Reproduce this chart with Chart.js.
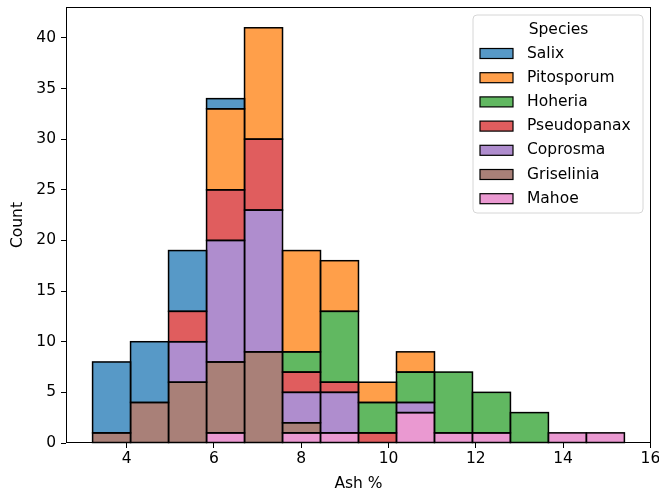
<!DOCTYPE html>
<html>
<head>
<meta charset="utf-8">
<script src="https://cdn.jsdelivr.net/npm/chart.js@4/dist/chart.umd.min.js"></script>
<style>
  html, body { margin: 0; padding: 0; background: #ffffff; }
  #wrap { width: 659px; height: 493px; }
</style>
</head>
<body>
<div id="wrap"><canvas id="c" width="659" height="493"></canvas></div>
<script>
// Histogram bin edges of Ash %
const binEdges = [3.221, 4.091, 4.961, 5.832, 6.702, 7.572, 8.442, 9.312, 10.183, 11.053, 11.923, 12.793, 13.663, 14.533, 15.404];

// Species in legend order
const species = ['Salix', 'Pitosporum', 'Hoheria', 'Pseudopanax', 'Coprosma', 'Griselinia', 'Mahoe'];

// Counts per bin for each species
const salix       = [7, 6, 6, 1, 0, 0, 0, 0, 0, 0, 0, 0, 0, 0];
const pitosporum  = [0, 0, 0, 8, 11, 10, 5, 2, 2, 0, 0, 0, 0, 0];
const hoheria     = [0, 0, 0, 0, 0, 2, 7, 3, 3, 6, 4, 3, 0, 0];
const pseudopanax = [0, 0, 3, 5, 7, 2, 1, 1, 0, 0, 0, 0, 0, 0];
const coprosma    = [0, 0, 4, 12, 14, 3, 4, 0, 1, 0, 0, 0, 0, 0];
const griselinia  = [1, 4, 6, 7, 9, 1, 0, 0, 0, 0, 0, 0, 0, 0];
const mahoe       = [0, 0, 0, 1, 0, 1, 1, 0, 3, 1, 1, 0, 1, 1];

const counts = [salix, pitosporum, hoheria, pseudopanax, coprosma, griselinia, mahoe];

// Tick labels
const xTicks = [4, 6, 8, 10, 12, 14, 16];
const yTicks = [0, 5, 10, 15, 20, 25, 30, 35, 40];

const colors = [
  'rgba(31,119,180,0.75)',
  'rgba(255,127,14,0.75)',
  'rgba(44,160,44,0.75)',
  'rgba(214,39,40,0.75)',
  'rgba(148,103,189,0.75)',
  'rgba(140,86,75,0.75)',
  'rgba(227,119,194,0.75)'
];

const FONT = "'DejaVu Sans', sans-serif";
const FS = 15.5;

// Axis limits with 5% margins around the data
const xSpan = binEdges[binEdges.length - 1] - binEdges[0];
const xMin = binEdges[0] - 0.05 * xSpan;
const xMax = binEdges[binEdges.length - 1] + 0.05 * xSpan;
const totals = binEdges.slice(0, -1).map((_, i) => counts.reduce((s, a) => s + a[i], 0));
const yMax = Math.max(...totals) * 1.05;

// Stacked bottom-up: last species in legend order sits at the bottom
const datasets = species.map((name, k) => ({
  label: name,
  data: counts[k].map((v, i) => ({ x: (binEdges[i] + binEdges[i + 1]) / 2, y: v === 0 ? null : v })),
  backgroundColor: colors[k],
  borderWidth: 0,
  barPercentage: 1,
  categoryPercentage: 1
})).reverse();

// Outline every bar, then frame the plot and draw the legend box
const outlinePlugin = {
  id: 'outline',
  afterDatasetsDraw(chart) {
    const ctx = chart.ctx;
    ctx.save();
    ctx.strokeStyle = '#000000';
    ctx.lineWidth = 1.5;
    chart.data.datasets.forEach((ds, di) => {
      const meta = chart.getDatasetMeta(di);
      meta.data.forEach((bar, i) => {
        if (ds.data[i].y == null) return;
        const p = bar.getProps(['x', 'y', 'base', 'width'], true);
        const l = p.x - p.width / 2;
        const top = Math.min(p.y, p.base);
        const h = Math.abs(p.base - p.y);
        ctx.strokeRect(l, top, p.width, h);
      });
    });
    ctx.restore();
  },
  afterDraw(chart) {
    const ctx = chart.ctx;
    const a = chart.chartArea;
    ctx.save();
    ctx.strokeStyle = '#000000';
    ctx.lineWidth = 1;
    ctx.strokeRect(Math.round(a.left) + 0.5, Math.round(a.top) + 0.5,
                   Math.round(a.right - a.left) - 1, Math.round(a.bottom - a.top) - 1);

    // Legend
    const bx = 473, by = 15, bw = 170, bh = 198, r = 4;
    ctx.beginPath();
    ctx.moveTo(bx + r, by);
    ctx.arcTo(bx + bw, by, bx + bw, by + bh, r);
    ctx.arcTo(bx + bw, by + bh, bx, by + bh, r);
    ctx.arcTo(bx, by + bh, bx, by, r);
    ctx.arcTo(bx, by, bx + bw, by, r);
    ctx.closePath();
    ctx.fillStyle = 'rgba(255,255,255,0.8)';
    ctx.fill();
    ctx.strokeStyle = '#d6d6d6';
    ctx.lineWidth = 1;
    ctx.stroke();

    ctx.font = FS + 'px ' + FONT;
    ctx.fillStyle = '#000000';
    ctx.textBaseline = 'middle';
    ctx.textAlign = 'center';
    ctx.fillText('Species', bx + bw / 2 + 0.5, 30);
    ctx.textAlign = 'left';
    species.forEach((name, k) => {
      const cy = 53.5 + k * 24.2;
      ctx.fillStyle = '#ffffff';
      ctx.fillRect(480, cy - 5, 33, 10);
      ctx.fillStyle = colors[k];
      ctx.fillRect(480, cy - 5, 33, 10);
      ctx.strokeStyle = '#000000';
      ctx.lineWidth = 1.2;
      ctx.strokeRect(480, cy - 5, 33, 10);
      ctx.fillStyle = '#000000';
      ctx.fillText(name, 527, cy);
    });
    ctx.restore();
  }
};

new Chart(document.getElementById('c'), {
  type: 'bar',
  data: { datasets },
  plugins: [outlinePlugin],
  options: {
    responsive: false,
    animation: false,
    layout: { padding: { left: 0, right: 8, top: 7, bottom: 0 } },
    plugins: {
      legend: { display: false },
      tooltip: { enabled: false }
    },
    scales: {
      x: {
        type: 'linear',
        stacked: true,
        offset: false,
        min: xMin,
        max: xMax,
        afterBuildTicks: s => { s.ticks = xTicks.map(v => ({ value: v })); },
        afterFit: s => { s.height = 50; s.paddingLeft = 0; s.paddingRight = 0; },
        grid: { display: true, offset: false, drawOnChartArea: false, drawTicks: true, tickLength: 5, tickColor: '#000000', tickWidth: 1 },
        border: { display: false },
        ticks: { color: '#000000', font: { family: FONT, size: FS }, padding: 2, maxRotation: 0, autoSkip: false },
        title: { display: true, text: 'Ash %', color: '#000000', font: { family: FONT, size: FS }, padding: { top: 0, bottom: 0 } }
      },
      y: {
        type: 'linear',
        stacked: true,
        min: 0,
        max: yMax,
        afterBuildTicks: s => { s.ticks = yTicks.map(v => ({ value: v })); },
        afterFit: s => { s.width = 66; s.paddingTop = 0; s.paddingBottom = 0; },
        grid: { display: true, offset: false, drawOnChartArea: false, drawTicks: true, tickLength: 5, tickColor: '#000000', tickWidth: 1 },
        border: { display: false },
        ticks: { color: '#000000', font: { family: FONT, size: FS }, padding: 5, autoSkip: false },
        title: { display: true, text: 'Count', color: '#000000', font: { family: FONT, size: FS }, padding: { top: 9, bottom: 0 } }
      }
    }
  }
});
</script>
</body>
</html>
